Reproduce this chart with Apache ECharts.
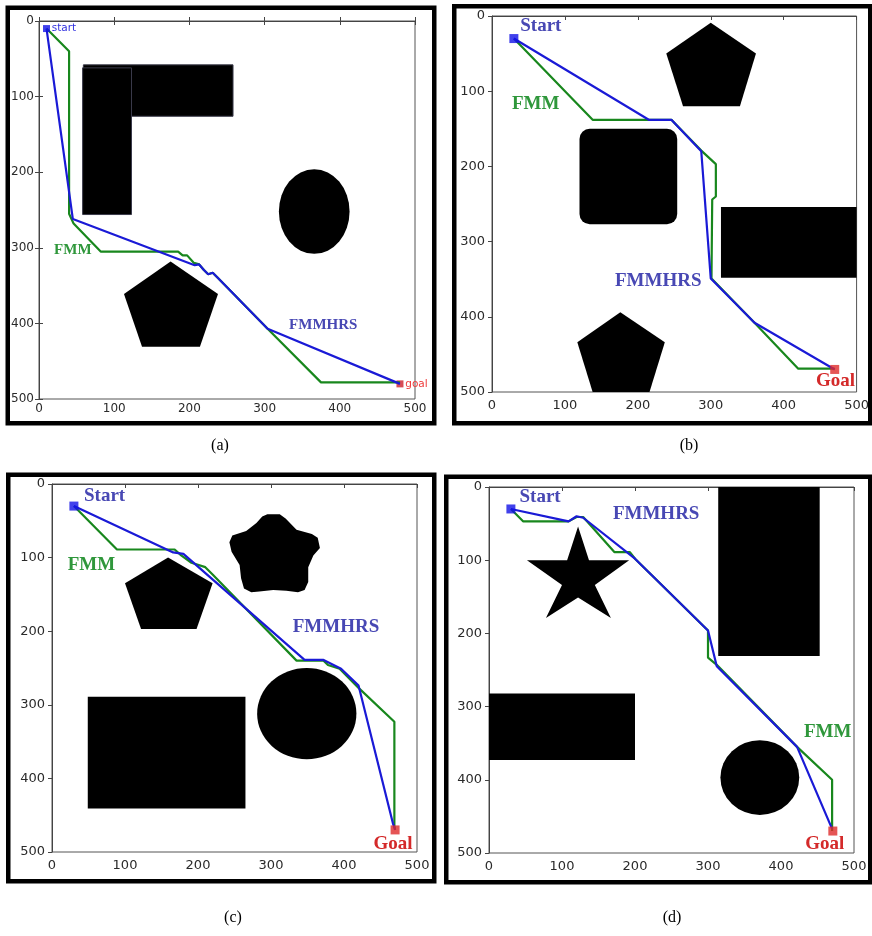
<!DOCTYPE html>
<html>
<head>
<meta charset="utf-8">
<title>FMM vs FMMHRS paths</title>
<script src="https://cdn.jsdelivr.net/npm/echarts@6/dist/echarts.min.js"></script>
<style>
  html, body { margin: 0; padding: 0; background: #fff; }
  #main { width: 872px; height: 936px; }
</style>
</head>
<body>
<div id="main"></div>
<script>
// ---- data (map units, y grows downwards like the image) ----
const tickValues = [0, 100, 200, 300, 400, 500];
const panelNames = ['(a)', '(b)', '(c)', '(d)'];

// (a)
const fmmA = [[10, 10], [40, 40], [40, 255], [46, 268], [82, 305], [185, 305], [191, 310], [197, 310], [206, 320], [213, 322], [219, 329], [225, 335], [231, 333], [237, 339], [304, 407], [375, 478], [480, 478]];
const hrsA = [[10, 10], [45, 262], [207, 323], [213, 322], [219, 329], [225, 335], [231, 333], [237, 339], [304, 407], [480, 480]];
const startA = [10, 10], goalA = [480, 480];
const rectsA = [[59, 58, 258, 126], [58, 62, 123, 256]];
const polysA = [[[175, 318], [238, 361], [214, 431], [137, 431], [113, 361]]];
const ellipsesA = [[366, 252, 47, 56]];
const labelsA = [['start', 17, 10], ['goal', 487, 481], ['FMM', 45, 303], ['FMMHRS', 378, 402]];

// (b)
const fmmB = [[30, 30], [138, 138], [246, 138], [287, 179], [307, 197], [307, 240], [302, 244], [301, 349], [360, 408], [420, 469], [470, 469]];
const hrsB = [[30, 30], [215, 138], [246, 138], [287, 180], [300, 349], [360, 408], [470, 470]];
const startB = [30, 30], goalB = [470, 470];
const rectsB = [[314, 254, 500, 348]];
const roundRectsB = [[120, 150, 254, 277, 14]];
const polysB = [
  [[300, 9], [362, 50], [340, 120], [262, 120], [239, 50]],
  [[176, 394], [237, 434], [216, 500], [138, 500], [117, 434]]
];
const labelsB = [['Start', 67, 14], ['FMM', 60, 117], ['FMMHRS', 228, 353], ['Goal', 471, 486]];

// (c)
const fmmC = [[30, 30], [89, 89], [168, 89], [177, 97], [191, 107], [210, 113], [220, 123], [335, 240], [372, 240], [378, 246], [394, 251], [421, 278], [469, 323], [469, 464], [470, 470]];
const hrsC = [[30, 30], [166, 93], [180, 95], [346, 239], [372, 239], [396, 251], [420, 274], [467, 461], [470, 470]];
const startC = [30, 30], goalC = [470, 470];
const rectsC = [[49, 289, 265, 441]];
const polysC = [
  [[159, 100], [220, 135], [198, 197], [122, 197], [100, 135]],
  [[295, 41], [312, 41], [320, 47], [335, 62], [356, 68], [364, 73], [367, 87], [358, 97], [351, 113], [351, 133], [346, 144], [337, 147], [321, 145], [303, 144], [284, 146], [273, 147], [263, 142], [259, 128], [257, 110], [246, 92], [243, 79], [247, 70], [266, 64], [280, 53], [288, 44]]
];
const ellipsesC = [[349, 312, 68, 62]];
const labelsC = [['Start', 72, 17], ['FMM', 54, 110], ['FMMHRS', 389, 195], ['Goal', 467, 489]];

// (d)
const fmmD = [[30, 30], [47, 47], [109, 47], [120, 41], [129, 41], [172, 89], [193, 89], [200, 98], [300, 196], [300, 233], [312, 243], [422, 355], [470, 400], [470, 470]];
const hrsD = [[30, 30], [109, 47], [120, 40], [129, 42], [200, 98], [300, 196], [312, 245], [422, 355], [470, 467]];
const startD = [30, 30], goalD = [471, 470];
const rectsD = [[314, 0, 453, 231], [0, 282, 200, 373]];
const polysD = [[[122, 54], [137, 100], [192, 100], [145, 134], [167, 179], [122, 151], [78, 179], [100, 134], [52, 100], [107, 100]]];
const ellipsesD = [[371, 397, 54, 51]];
const labelsD = [['Start', 70, 14], ['FMMHRS', 229, 37], ['FMM', 464, 335], ['Goal', 460, 488]];

const panels = [
  { fmm: fmmA, hrs: hrsA, start: startA, goal: goalA, rects: rectsA, roundRects: [], polys: polysA, ellipses: ellipsesA, labels: labelsA },
  { fmm: fmmB, hrs: hrsB, start: startB, goal: goalB, rects: rectsB, roundRects: roundRectsB, polys: polysB, ellipses: [], labels: labelsB },
  { fmm: fmmC, hrs: hrsC, start: startC, goal: goalC, rects: rectsC, roundRects: [], polys: polysC, ellipses: ellipsesC, labels: labelsC },
  { fmm: fmmD, hrs: hrsD, start: startD, goal: goalD, rects: rectsD, roundRects: [], polys: polysD, ellipses: ellipsesD, labels: labelsD }
];

// ---- layout (pixels) ----
const grids = [
  { left: 39, top: 21, width: 376, height: 378 },
  { left: 492, top: 16, width: 368, height: 376 },
  { left: 52, top: 484, width: 365, height: 368 },
  { left: 489, top: 487, width: 365, height: 366 }
];
const frames = [
  [7.5, 7.5, 426.5, 415.5],
  [454, 6, 416, 417],
  [8, 474.5, 426, 406.5],
  [446, 476.5, 424, 405.5]
];
const captionPos = [[220, 446], [689, 446], [233, 918], [672, 918]];

const GREEN = '#18871d';
const BLUE = '#1a1ad6';
const labelColor = { start: '#3030e0', goal: '#ee3a3a', Start: '#4848b4', Goal: '#d42a2a', FMM: '#2f973b', FMMHRS: '#4848b4' };

const chart = echarts.init(document.getElementById('main'));

const xAxes = [], yAxes = [], series = [];

grids.forEach(function (g, i) {
  const inside = i === 0;   // (a) is old matplotlib style: ticks inward
  const common = {
    type: 'value', gridIndex: i, min: tickValues[0], max: tickValues[tickValues.length - 1], interval: 100,
    axisLine: { show: true, lineStyle: { color: '#444', width: 1 } },
    axisTick: { show: true, inside: inside, length: 4, lineStyle: { color: '#444' } },
    axisLabel: { color: '#2a2a2a', fontFamily: 'DejaVu Sans', fontSize: inside ? 12 : 13, showMinLabel: true, showMaxLabel: true },
    splitLine: { show: false }
  };
  xAxes.push(Object.assign({}, common, { position: 'bottom', axisLabel: Object.assign({}, common.axisLabel, { margin: inside ? 4 : 7 }) }));
  yAxes.push(Object.assign({}, common, { position: 'left', inverse: true, axisLabel: Object.assign({}, common.axisLabel, { margin: inside ? 5 : 7 }) }));
});
// top / right ticks of (a)
xAxes.push({ type: 'value', gridIndex: 0, position: 'top', min: 0, max: 500, interval: 100,
  axisLine: { show: true, lineStyle: { color: '#444' } }, axisTick: { inside: true, length: 4, lineStyle: { color: '#444' } },
  axisLabel: { show: false }, splitLine: { show: false } });
yAxes.push({ type: 'value', gridIndex: 0, position: 'right', inverse: true, min: 0, max: 500, interval: 100,
  axisLine: { show: true, lineStyle: { color: '#444' } }, axisTick: { inside: true, length: 4, lineStyle: { color: '#444' } },
  axisLabel: { show: false }, splitLine: { show: false } });

panels.forEach(function (p, i) {
  const base = { xAxisIndex: i, yAxisIndex: i, silent: true, animation: false };

  // obstacles
  series.push(Object.assign({}, base, {
    type: 'custom', z: 2, clip: true,
    data: p.rects.map(function (r) { return [r[0], r[1]]; }),
    renderItem: function (params, api) {
      const r = p.rects[params.dataIndex];
      const a = api.coord([r[0], r[1]]), b = api.coord([r[2], r[3]]);
      return { type: 'rect', shape: { x: Math.min(a[0], b[0]), y: Math.min(a[1], b[1]), width: Math.abs(b[0] - a[0]), height: Math.abs(b[1] - a[1]) },
        style: { fill: '#000', stroke: i === 0 ? '#3a3a4a' : null, lineWidth: 1 } };
    }
  }));
  series.push(Object.assign({}, base, {
    type: 'custom', z: 2, clip: true,
    data: p.roundRects.map(function (r) { return [r[0], r[1]]; }),
    renderItem: function (params, api) {
      const r = p.roundRects[params.dataIndex];
      const a = api.coord([r[0], r[1]]), b = api.coord([r[2], r[3]]);
      const rad = api.size([r[4], r[4]])[0];
      return { type: 'rect', shape: { x: a[0], y: a[1], width: b[0] - a[0], height: b[1] - a[1], r: rad }, style: { fill: '#000' } };
    }
  }));
  series.push(Object.assign({}, base, {
    type: 'custom', z: 2, clip: true,
    data: p.polys.map(function (poly) { return poly[0]; }),
    renderItem: function (params, api) {
      const poly = p.polys[params.dataIndex];
      return { type: 'polygon', shape: { points: poly.map(function (pt) { return api.coord(pt); }) },
        style: { fill: '#000' } };
    }
  }));
  series.push(Object.assign({}, base, {
    type: 'custom', z: 2, clip: true,
    data: p.ellipses.map(function (e) { return [e[0], e[1]]; }),
    renderItem: function (params, api) {
      const e = p.ellipses[params.dataIndex];
      const c = api.coord([e[0], e[1]]);
      const s = api.size([e[2], e[3]]);
      return { type: 'circle', x: c[0], y: c[1], scaleX: s[0] / s[1], shape: { cx: 0, cy: 0, r: s[1] }, style: { fill: '#000' } };
    }
  }));

  // paths
  series.push(Object.assign({}, base, {
    type: 'line', name: 'FMM', z: 4, data: p.fmm, symbol: 'none', clip: false,
    lineStyle: { color: GREEN, width: 2.2 }
  }));
  series.push(Object.assign({}, base, {
    type: 'line', name: 'FMMHRS', z: 5, data: p.hrs, symbol: 'none', clip: false,
    lineStyle: { color: BLUE, width: 2.2 }
  }));

  // start / goal
  const ms = i === 0 ? 7 : 9;
  series.push(Object.assign({}, base, {
    type: 'scatter', z: i === 0 ? 3 : 6, symbol: 'rect', symbolSize: ms, data: [p.goal], itemStyle: { color: i === 0 ? '#cc1f2a' : '#df2a2a' }
  }));
  series.push(Object.assign({}, base, {
    type: 'scatter', z: 6, symbol: 'rect', symbolSize: ms, data: [p.start], itemStyle: { color: '#1212e6' }
  }));

  // text labels
  series.push(Object.assign({}, base, {
    type: 'custom', z: 7, clip: false,
    data: p.labels.map(function (l) { return [l[1], l[2]]; }),
    renderItem: function (params, api) {
      const l = p.labels[params.dataIndex];
      const c = api.coord([l[1], l[2]]);
      const small = l[0] === 'start' || l[0] === 'goal';
      const size = i === 0 ? 15 : 19;
      return {
        type: 'text', x: c[0], y: c[1],
        style: {
          text: l[0], fill: labelColor[l[0]],
          font: small ? '10.5px "DejaVu Sans"' : 'bold ' + size + 'px "Liberation Serif"',
          align: small ? 'left' : 'center', verticalAlign: 'middle'
        }
      };
    }
  }));
});

const graphics = [];
frames.forEach(function (f) {
  graphics.push({ type: 'rect', left: f[0] - 2.25, top: f[1] - 2.25, z: 20, silent: true,
    shape: { x: 0, y: 0, width: f[2], height: f[3] }, style: { fill: null, stroke: '#000', lineWidth: 4.5 } });
});
captionPos.forEach(function (c, i) {
  graphics.push({ type: 'text', x: c[0], y: c[1], z: 20, silent: true,
    style: { text: panelNames[i], fill: '#000', font: '16px "Liberation Serif"', align: 'center', verticalAlign: 'middle' } });
});

chart.setOption({
  animation: false,
  backgroundColor: '#fff',
  grid: grids.map(function (g) { return Object.assign({ show: true, borderColor: '#555', borderWidth: 1, backgroundColor: '#fff', containLabel: false }, g); }),
  xAxis: xAxes,
  yAxis: yAxes,
  series: series,
  graphic: graphics
});
</script>
</body>
</html>
